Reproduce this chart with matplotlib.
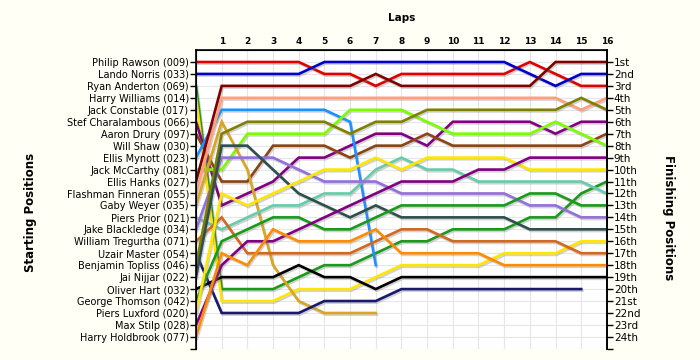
import matplotlib
matplotlib.use("Agg")
import matplotlib.pyplot as plt
import matplotlib.patheffects as pe

# starting grid, in order
drivers = [
    "Philip Rawson (009)", "Lando Norris (033)", "Ryan Anderton (069)",
    "Harry Williams (014)", "Jack Constable (017)", "Stef Charalambous (066)",
    "Aaron Drury (097)", "Will Shaw (030)", "Ellis Mynott (023)",
    "Jack McCarthy (081)", "Ellis Hanks (027)", "Flashman Finneran (055)",
    "Gaby Weyer (035)", "Piers Prior (021)", "Jake Blackledge (034)",
    "William Tregurtha (071)", "Uzair Master (054)", "Benjamin Topliss (046)",
    "Jai Nijjar (022)", "Oliver Hart (032)", "George Thomson (042)",
    "Piers Luxford (020)", "Max Stilp (028)", "Harry Holdbrook (077)",
]

colors = [
    "#e00000", "#0000c8", "#1a9a1a", "#ffe600", None, "#800080",
    "#8b4513", None, "#1e90ff", "#7cfc00", "#800000", "#ffa07a",
    "#daa520", "#66cdaa", "#9370db", "#d2691e", "#191970", "#808000",
    "#2f4f4f", "#000000", "#1a9a1a", "#ffe600", "#800080", "#ff8c00",
]

# position at lap 0 (grid), 1, 2, ...
positions = [
    [1, 1, 1, 1, 1, 2, 2, 3, 2, 2, 2, 2, 2, 1, 2, 3, 3],
    [2, 2, 2, 2, 2, 1, 1, 1, 1, 1, 1, 1, 1, 2, 3, 2, 2],
    [3, 20, 20, 20, 19, 18, 18, 17, 16, 16, 15, 15, 15, 14, 14, 12, 11],
    [4, 21, 21, 21, 20, 20, 20, 19, 18, 18, 18, 18, 17, 17, 17, 16, 16],
    [],
    [6, 13, 12, 11, 9, 9, 8, 7, 7, 8, 6, 6, 6, 6, 7, 6, 6],
    [7, 11, 11, 8, 8, 8, 9, 8, 8, 7, 8, 8, 8, 8, 8, 8, 7],
    [],
    [9, 5, 5, 5, 5, 5, 6, 18],
    [10, 10, 7, 7, 7, 7, 5, 5, 5, 6, 7, 7, 7, 7, 6, 7, 8],
    [11, 3, 3, 3, 3, 3, 3, 2, 3, 3, 3, 3, 3, 3, 1, 1, 1],
    [12, 4, 4, 4, 4, 4, 4, 4, 4, 4, 4, 4, 4, 4, 4, 5, 4],
    [13, 6, 10, 18, 21, 22, 22, 22],
    [14, 15, 14, 13, 13, 12, 12, 10, 9, 10, 10, 11, 11, 11, 11, 11, 12],
    [15, 9, 9, 9, 10, 11, 11, 11, 12, 12, 12, 12, 12, 13, 13, 14, 14],
    [16, 14, 17, 17, 17, 17, 17, 16, 15, 15, 16, 16, 16, 16, 16, 17, 17],
    [17, 22, 22, 22, 22, 21, 21, 21, 20, 20, 20, 20, 20, 20, 20, 20],
    [18, 7, 6, 6, 6, 6, 7, 6, 6, 5, 5, 5, 5, 5, 5, 4, 5],
    [19, 8, 8, 10, 12, 13, 14, 13, 14, 14, 14, 14, 14, 15, 15, 15, 15],
    [20, 19, 19, 19, 18, 19, 19, 20, 19, 19, 19, 19, 19, 19, 19, 19, 19],
    [21, 16, 15, 14, 14, 15, 15, 14, 13, 13, 13, 13, 13, 12, 12, 13, 13],
    [22, 12, 13, 12, 11, 10, 10, 9, 10, 9, 9, 9, 9, 10, 10, 10, 10],
    [23, 18, 16, 16, 15, 14, 13, 12, 11, 11, 11, 10, 10, 9, 9, 9, 9],
    [24, 17, 18, 15, 16, 16, 16, 15, 17, 17, 17, 17, 18, 18, 18, 18, 18],
]

n_laps = 16
finish_labels = ["1st", "2nd", "3rd"] + [f"{i}th" for i in range(4, 21)] + \
    ["21st", "22nd", "23rd", "24th"]

plt.rcParams["font.family"] = "DejaVu Sans"
fig = plt.figure(figsize=(7, 3.6), dpi=100, facecolor="#fffff5")
ax = fig.add_axes([0.28, 0.031, 0.587, 0.83])
ax.set_facecolor("white")

shadow = [pe.SimpleLineShadow(offset=(0.8, -1.2), shadow_color="#808080", alpha=0.35),
          pe.Normal()]
for pos, col in zip(positions, colors):
    if not pos:
        continue
    ax.plot(range(len(pos)), pos, color=col, lw=1.9, solid_joinstyle="miter",
            path_effects=shadow, zorder=3)

ax.set_xlim(0, n_laps)
ax.set_ylim(25, 0)

ax.set_xticks(range(0, n_laps + 1))
ax.set_xticklabels([""] + [str(i) for i in range(1, n_laps + 1)],
                   fontsize=6.5, fontweight="bold")
ax.xaxis.tick_top()
ax.tick_params(axis="x", length=0, pad=3)

ax.set_yticks(range(1, 26))
ax.set_yticklabels(drivers + [""], fontsize=7)
ax.tick_params(axis="y", length=4, width=1, pad=1)

ax.grid(True, color="#e6e6e6", lw=0.8, zorder=0)
ax.set_axisbelow(True)
ax.spines["bottom"].set_visible(False)
for s in ["left", "top", "right"]:
    ax.spines[s].set_linewidth(1.2)

ax2 = ax.twinx()
ax2.set_ylim(25, 0)
ax2.set_yticks(range(1, 26))
ax2.set_yticklabels(finish_labels + [""], fontsize=7.5)
ax2.tick_params(axis="y", length=4, width=1, pad=1)
ax2.spines["bottom"].set_visible(False)
ax2.spines["right"].set_linewidth(1.2)

fig.text(0.574, 0.95, "Laps", ha="center", va="center", fontsize=7.5,
         fontweight="bold")
fig.text(0.043, 0.41, "Starting Positions", ha="center", va="center",
         rotation=90, fontsize=8.5, fontweight="bold")
fig.text(0.955, 0.395, "Finishing Positions", ha="center", va="center",
         rotation=270, fontsize=8.5, fontweight="bold")

fig.savefig("out.png", dpi=100, facecolor=fig.get_facecolor())
